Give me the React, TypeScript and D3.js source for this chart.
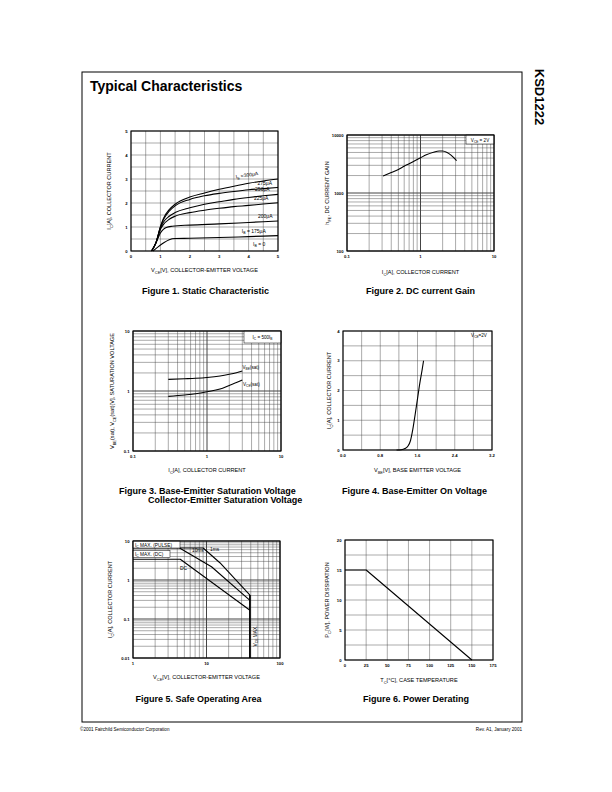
import * as d3 from 'd3'
import React from 'react'

type Pt = [number, number]

const FONT = '"Liberation Sans", Arial, Helvetica, sans-serif'

// Figure 1 – static characteristic, IC vs VCE for each base current
const ib300: Pt[] = [[0.7, 0], [0.85, 0.35], [1.0, 1.0], [1.1, 1.35], [1.3, 1.72], [1.5, 1.95], [2, 2.25], [2.5, 2.42], [3, 2.57], [3.5, 2.7], [4, 2.82], [4.5, 2.92], [5, 3.0]]
const ib275: Pt[] = [[0.7, 0], [0.85, 0.35], [1.0, 1.0], [1.1, 1.3], [1.3, 1.66], [1.5, 1.88], [2, 2.15], [2.5, 2.3], [3, 2.4], [3.5, 2.48], [4, 2.55], [4.5, 2.6], [5, 2.65]]
const ib250: Pt[] = [[0.7, 0], [0.85, 0.35], [1.0, 0.95], [1.1, 1.2], [1.3, 1.45], [1.5, 1.6], [2, 1.8], [2.5, 1.95], [3, 2.05], [3.5, 2.15], [4, 2.23], [4.5, 2.3], [5, 2.36]]
const ib225: Pt[] = [[0.7, 0], [0.85, 0.35], [1.0, 0.9], [1.1, 1.1], [1.3, 1.32], [1.5, 1.45], [2, 1.6], [2.5, 1.7], [3, 1.78], [3.5, 1.85], [4, 1.9], [4.5, 1.96], [5, 2.01]]
const ib200: Pt[] = [[0.7, 0], [0.85, 0.33], [1.0, 0.75], [1.1, 0.9], [1.2, 0.98], [1.4, 1.03], [2, 1.08], [3, 1.13], [4, 1.19], [5, 1.25]]
const ib175: Pt[] = [[0.75, 0], [0.9, 0.15], [1.1, 0.33], [1.3, 0.47], [1.5, 0.52], [2, 0.53], [3, 0.56], [4, 0.6], [5, 0.64]]
const fig1Ticks = [0, 1, 2, 3, 4, 5]

// Figure 2 – DC current gain
const hfe: Pt[] = [[0.31, 1960], [0.4, 2250], [0.5, 2550], [0.6, 2900], [0.7, 3200], [0.8, 3500], [1.0, 4050], [1.2, 4550], [1.5, 5050], [1.8, 5300], [2.0, 5300], [2.3, 5000], [2.6, 4500], [2.9, 3950], [3.1, 3600]]
const fig2XTicks = [0.1, 1, 10]
const fig2YTicks = [100, 1000, 10000]

// Figure 3 – saturation voltages
const vbeSat: Pt[] = [[0.3, 1.56], [0.5, 1.6], [0.7, 1.63], [1, 1.68], [1.5, 1.78], [2, 1.9], [2.5, 2.02], [3, 2.15]]
const vceSat: Pt[] = [[0.3, 0.815], [0.5, 0.86], [0.7, 0.9], [1, 0.97], [1.5, 1.08], [2, 1.24], [2.5, 1.38], [3, 1.52]]
const fig3XTicks = [0.1, 1, 10]
const fig3YTicks = [0.1, 1, 10]

// Figure 4 – base-emitter on voltage
const vbeOn: Pt[] = [[1.15, 0], [1.25, 0.01], [1.33, 0.05], [1.4, 0.14], [1.45, 0.32], [1.5, 0.7], [1.55, 1.2], [1.6, 1.72], [1.65, 2.25], [1.7, 2.7], [1.73, 3.0]]
const fig4XTicks = [0, 0.8, 1.6, 2.4, 3.2]
const fig4YTicks = [0, 1, 2, 3, 4]

// Figure 5 – safe operating area
const soa1ms: Pt[] = [[1, 6.6], [9, 6.6], [15.2, 2.77], [39, 0.41]]
const soa10ms: Pt[] = [[4.3, 6.6], [11.7, 2.19], [39, 0.3]]
const soaDC: Pt[] = [[1, 3.4], [4.4, 3.4], [39, 0.168]]
const vceMax: Pt[] = [[39, 0.41], [39, 0.01]]
const fig5XTicks = [1, 10, 100]
const fig5YTicks = [0.01, 0.1, 1, 10]

// Figure 6 – power derating
const pDerate: Pt[] = [[0, 15], [25, 15], [150, 0]]
const fig6XTicks = [0, 25, 50, 75, 100, 125, 150, 175]
const fig6YTicks = [0, 5, 10, 15, 20]

// text with _{sub} markers
function Rich({ s, size }: { s: string; size: number }) {
  const parts = s.split(/(_\{[^}]*\})/).filter((p) => p !== '')
  let shift = 0
  return (
    <>
      {parts.map((p, i) => {
        const sub = p.startsWith('_{')
        const target = sub ? size * 0.28 : 0
        const dy = target - shift
        shift = target
        return (
          <tspan key={i} dy={dy} fontSize={sub ? size * 0.7 : size}>
            {sub ? p.slice(2, -1) : p}
          </tspan>
        )
      })}
    </>
  )
}

interface PanelProps {
  box: [number, number, number, number]
  x: any
  y: any
  xGrid: number[]
  yGrid: number[]
  xMajor?: number[]
  yMajor?: number[]
  xTicks: number[]
  yTicks: number[]
  xFmt?: (v: number) => string
  yFmt?: (v: number) => string
  xTitle: string
  yTitle: string
  xTitleY: number
  yTitleX: number
  children?: React.ReactNode
}

function Panel(p: PanelProps) {
  const [l, t, r, b] = p.box
  const xf = p.xFmt ?? ((v: number) => String(v))
  const yf = p.yFmt ?? ((v: number) => String(v))
  const cx = (l + r) / 2
  const cy = (t + b) / 2
  return (
    <g>
      <rect x={l} y={t} width={r - l} height={b - t} fill="#fff" />
      {p.xGrid.map((v, i) => (
        <line key={'gx' + i} x1={p.x(v)} x2={p.x(v)} y1={t} y2={b} stroke="#444" strokeWidth={p.xMajor?.includes(v) ? 1 : 0.45} />
      ))}
      {p.yGrid.map((v, i) => (
        <line key={'gy' + i} y1={p.y(v)} y2={p.y(v)} x1={l} x2={r} stroke="#444" strokeWidth={p.yMajor?.includes(v) ? 1 : 0.45} />
      ))}
      {p.children}
      <rect x={l} y={t} width={r - l} height={b - t} fill="none" stroke="#000" strokeWidth={1.1} />
      {p.xTicks.map((v, i) => (
        <text key={'tx' + i} x={p.x(v)} y={b + 7} fontSize={4.2} fontWeight="bold" textAnchor="middle">
          {xf(v)}
        </text>
      ))}
      {p.yTicks.map((v, i) => (
        <text key={'ty' + i} x={l - 3.5} y={p.y(v) + 1.5} fontSize={4.2} fontWeight="bold" textAnchor="end">
          {yf(v)}
        </text>
      ))}
      <text x={cx} y={p.xTitleY} fontSize={5.6} textAnchor="middle">
        <Rich s={p.xTitle} size={5.6} />
      </text>
      <text transform={`translate(${p.yTitleX},${cy}) rotate(-90)`} fontSize={5.6} textAnchor="middle">
        <Rich s={p.yTitle} size={5.6} />
      </text>
    </g>
  )
}

function Curve({ pts, x, y, curve = d3.curveLinear, w = 1.1 }: { pts: Pt[]; x: any; y: any; curve?: any; w?: number }) {
  const gen = d3
    .line<Pt>()
    .x((d) => x(d[0]))
    .y((d) => y(d[1]))
    .curve(curve)
  return <path d={gen(pts) ?? ''} fill="none" stroke="#000" strokeWidth={w} strokeLinejoin="round" />
}

function Label({ x, y, s, size = 5, anchor = 'start', rotate = 0 }: { x: number; y: number; s: string; size?: number; anchor?: string; rotate?: number }) {
  return (
    <text transform={`translate(${x},${y}) rotate(${rotate})`} fontSize={size} textAnchor={anchor as any}>
      <Rich s={s} size={size} />
    </text>
  )
}

export default function App() {
  // scales
  const x1 = d3.scaleLinear().domain([0, 5]).range([131, 278])
  const y1 = d3.scaleLinear().domain([0, 5]).range([251, 131])
  const x2 = d3.scaleLog().domain([0.1, 10]).range([347, 494])
  const y2 = d3.scaleLog().domain([100, 10000]).range([251, 135])
  const x3 = d3.scaleLog().domain([0.1, 10]).range([133, 281])
  const y3 = d3.scaleLog().domain([0.1, 10]).range([451, 331])
  const x4 = d3.scaleLinear().domain([0, 3.2]).range([343, 492])
  const y4 = d3.scaleLinear().domain([0, 4]).range([450, 331])
  const x5 = d3.scaleLog().domain([1, 100]).range([133, 280])
  const y5 = d3.scaleLog().domain([0.01, 10]).range([658, 541])
  const x6 = d3.scaleLinear().domain([0, 175]).range([345, 493])
  const y6 = d3.scaleLinear().domain([0, 20]).range([660, 540])

  const mono = d3.curveMonotoneX

  return (
    <div style={{ position: 'absolute', left: 0, top: 0 }}>
      <svg width={612} height={792} fontFamily={FONT} style={{ display: 'block', background: '#fff' }}>
        <rect width={612} height={792} fill="#fff" />
        <rect x={82} y={72} width={440} height={650} fill="none" stroke="#000" strokeWidth={1} />
        <text x={90} y={91} fontSize={14} fontWeight="bold">
          Typical Characteristics
        </text>
        <text transform="translate(535,97) rotate(90)" fontSize={13} fontWeight="bold" textAnchor="middle">
          KSD1222
        </text>

        {/* Figure 1 */}
        <Panel
          box={[131, 131, 278, 251]}
          x={x1}
          y={y1}
          xGrid={x1.ticks(10)}
          yGrid={y1.ticks(10)}
          xTicks={fig1Ticks}
          yTicks={fig1Ticks}
          xTitle="V_{CE}[V], COLLECTOR-EMITTER VOLTAGE"
          yTitle="I_{C}[A], COLLECTOR CURRENT"
          xTitleY={272}
          yTitleX={111}
        >
          {[ib300, ib275, ib250, ib225, ib200, ib175].map((c, i) => (
            <Curve key={i} pts={c} x={x1} y={y1} curve={mono} />
          ))}
          <Label x={x1(3.57)} y={y1(3.02)} s="I_{B} =300μA" rotate={-9} />
          <Label x={x1(4.3)} y={y1(2.77)} s="275μA" />
          <Label x={x1(4.22)} y={y1(2.48)} s="250μA" />
          <Label x={x1(4.18)} y={y1(2.14)} s="225μA" />
          <Label x={x1(4.32)} y={y1(1.36)} s="200μA" />
          <Label x={x1(3.77)} y={y1(0.75)} s="I_{B} = 175μA" />
          <Label x={x1(4.15)} y={y1(0.21)} s="I_{B} = 0" />
        </Panel>
        <text x={205.5} y={294} fontSize={9} fontWeight="bold" textAnchor="middle">
          Figure 1. Static Characteristic
        </text>

        {/* Figure 2 */}
        <Panel
          box={[347, 135, 494, 251]}
          x={x2}
          y={y2}
          xGrid={x2.ticks()}
          yGrid={y2.ticks()}
          xMajor={fig2XTicks}
          yMajor={fig2YTicks}
          xTicks={fig2XTicks}
          yTicks={fig2YTicks}
          xTitle="I_{C}[A], COLLECTOR CURRENT"
          yTitle="h_{FE}, DC CURRENT GAIN"
          xTitleY={274}
          yTitleX={329}
        >
          <Curve pts={hfe} x={x2} y={y2} curve={mono} />
          <rect x={466} y={135} width={28} height={9} fill="#fff" stroke="#000" strokeWidth={0.5} />
          <Label x={480} y={141.5} s="V_{CE} = 2V" size={4.6} anchor="middle" />
        </Panel>
        <text x={420.5} y={294} fontSize={9} fontWeight="bold" textAnchor="middle">
          Figure 2. DC current Gain
        </text>

        {/* Figure 3 */}
        <Panel
          box={[133, 331, 281, 451]}
          x={x3}
          y={y3}
          xGrid={x3.ticks()}
          yGrid={y3.ticks()}
          xMajor={fig3XTicks}
          yMajor={fig3YTicks}
          xTicks={fig3XTicks}
          yTicks={fig3YTicks}
          xTitle="I_{C}[A], COLLECTOR CURRENT"
          yTitle="V_{BE}(sat), V_{CE}(sat)[V], SATURATION VOLTAGE"
          xTitleY={472}
          yTitleX={114}
        >
          <Curve pts={vbeSat} x={x3} y={y3} curve={mono} />
          <Curve pts={vceSat} x={x3} y={y3} curve={mono} />
          <rect x={244} y={331} width={37} height={12} fill="#fff" stroke="#000" strokeWidth={0.5} />
          <Label x={262.5} y={339} s="I_{C} = 500I_{B}" size={4.6} anchor="middle" />
          <Label x={242.5} y={369} s="V_{BE}(sat)" size={4.6} />
          <Label x={243} y={386} s="V_{CE}(sat)" size={4.6} />
        </Panel>
        <text x={119} y={494} fontSize={9} fontWeight="bold">
          Figure 3. Base-Emitter Saturation Voltage
        </text>
        <text x={148} y={503} fontSize={9} fontWeight="bold">
          Collector-Emitter Saturation Voltage
        </text>

        {/* Figure 4 */}
        <Panel
          box={[343, 331, 492, 450]}
          x={x4}
          y={y4}
          xGrid={d3.range(0, 3.2001, 0.4)}
          yGrid={y4.ticks(8)}
          xTicks={fig4XTicks}
          yTicks={fig4YTicks}
          xFmt={(v) => v.toFixed(1)}
          xTitle="V_{BE}[V], BASE EMITTER VOLTAGE"
          yTitle="I_{C}[A], COLLECTOR CURRENT"
          xTitleY={472}
          yTitleX={331}
        >
          <Curve pts={vbeOn} x={x4} y={y4} curve={mono} />
          <Label x={479} y={337} s="V_{CE}=2V" size={4.6} anchor="middle" />
        </Panel>
        <text x={414.5} y={494} fontSize={9} fontWeight="bold" textAnchor="middle">
          Figure 4. Base-Emitter On Voltage
        </text>

        {/* Figure 5 */}
        <Panel
          box={[133, 541, 280, 658]}
          x={x5}
          y={y5}
          xGrid={x5.ticks()}
          yGrid={y5.ticks()}
          xMajor={fig5XTicks}
          yMajor={fig5YTicks}
          xTicks={fig5XTicks}
          yTicks={fig5YTicks}
          xTitle="V_{CE}[V], COLLECTOR-EMITTER VOLTAGE"
          yTitle="I_{C}[A], COLLECTOR CURRENT"
          xTitleY={679}
          yTitleX={112}
        >
          <Curve pts={soa1ms} x={x5} y={y5} />
          <Curve pts={soa10ms} x={x5} y={y5} />
          <Curve pts={soaDC} x={x5} y={y5} />
          <Curve pts={vceMax} x={x5} y={y5} w={1.8} />
          <rect x={133} y={541} width={47} height={7} fill="#fff" stroke="#000" strokeWidth={0.5} />
          <Label x={135} y={546.5} s="I_{C} MAX. (PULSE)" size={4.8} />
          <rect x={133} y={550.5} width={37} height={7} fill="#fff" stroke="#000" strokeWidth={0.5} />
          <Label x={135} y={556} s="I_{C} MAX. (DC)" size={4.8} />
          <Label x={192} y={551.5} s="10ms" size={4.8} />
          <Label x={210} y={551} s="1ms" size={4.8} />
          <Label x={180} y={569.5} s="DC" size={4.8} />
          <Label x={256.5} y={636} s="V_{CE} MAX." size={4.8} anchor="middle" rotate={-90} />
        </Panel>
        <text x={198.5} y={702} fontSize={9} fontWeight="bold" textAnchor="middle">
          Figure 5. Safe Operating Area
        </text>

        {/* Figure 6 */}
        <Panel
          box={[345, 540, 493, 660]}
          x={x6}
          y={y6}
          xGrid={fig6XTicks}
          yGrid={d3.range(0, 20.001, 2.5)}
          xTicks={fig6XTicks}
          yTicks={fig6YTicks}
          xTitle="T_{C}[°C], CASE TEMPERATURE"
          yTitle="P_{C}[W], POWER DISSIPATION"
          xTitleY={682}
          yTitleX={329}
        >
          <Curve pts={pDerate} x={x6} y={y6} />
        </Panel>
        <text x={416} y={702} fontSize={9} fontWeight="bold" textAnchor="middle">
          Figure 6. Power Derating
        </text>

        <text x={80} y={731} fontSize={4.6}>
          ©2001 Fairchild Semiconductor Corporation
        </text>
        <text x={522} y={731} fontSize={4.6} textAnchor="end">
          Rev. A1, January 2001
        </text>
      </svg>
    </div>
  )
}
